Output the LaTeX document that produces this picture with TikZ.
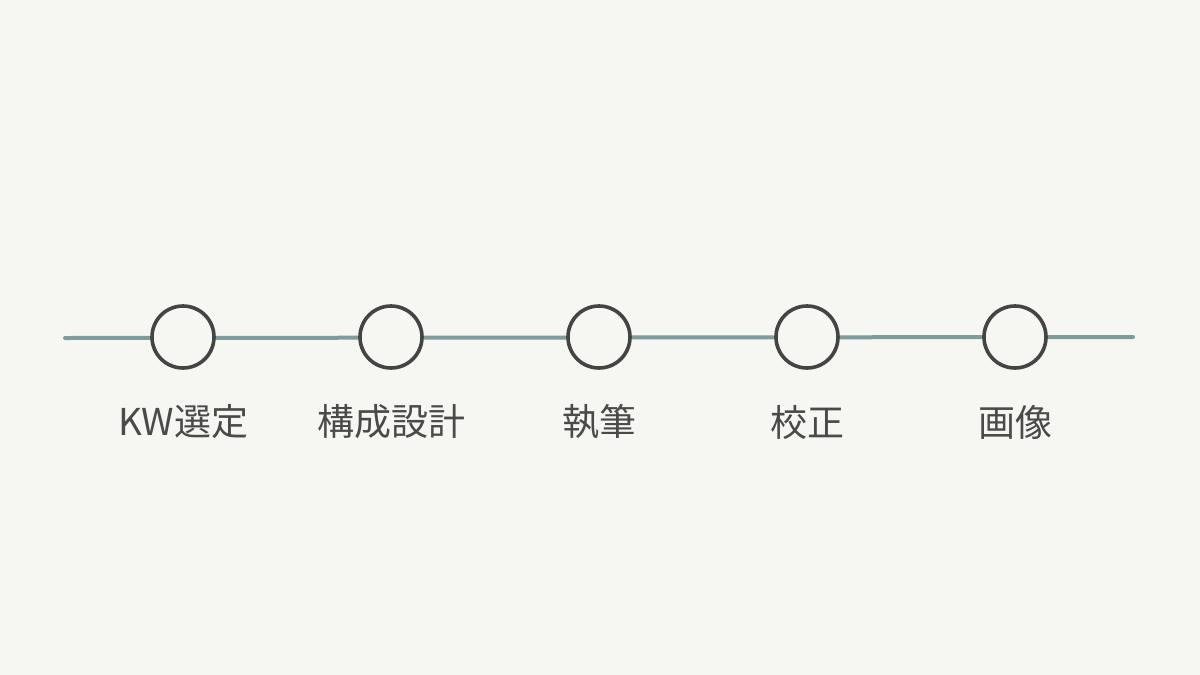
\documentclass[tikz,border=0pt]{standalone}
\usepackage{fontspec}
\newfontfamily\cjk{Noto Sans CJK JP}
\definecolor{bg}{HTML}{F6F6F2}
\definecolor{linec}{HTML}{7F9B9B}
\definecolor{ink}{HTML}{444444}
\definecolor{textc}{HTML}{4A4A4A}
\tikzset{
  stepnode/.style={circle, draw=ink, line width=3.6pt, fill=bg, minimum size=62pt, inner sep=0pt},
  labelnode/.style={font=\cjk\fontsize{37}{44}\selectfont, text=textc, inner sep=0pt, anchor=center},
  track/.style={draw=linec, line width=4pt, line cap=round}
}
\begin{document}
\begin{tikzpicture}[x=1pt,y=-1pt]
\fill[bg] (0,0) rectangle (1200,675);
\useasboundingbox (0,0) rectangle (1200,675);
\coordinate (L) at (65,338);
\coordinate (R) at (1133,337);
\draw[track] (L) -- (R);
\foreach \i/\x/\t in {1/183/KW選定, 2/391/構成設計, 3/599/執筆, 4/807/校正, 5/1015/画像} {
  \node[stepnode] (s\i) at (\x,337) {};
  \node[labelnode] (t\i) at (\x,422) {\t};
}
\end{tikzpicture}
\end{document}
